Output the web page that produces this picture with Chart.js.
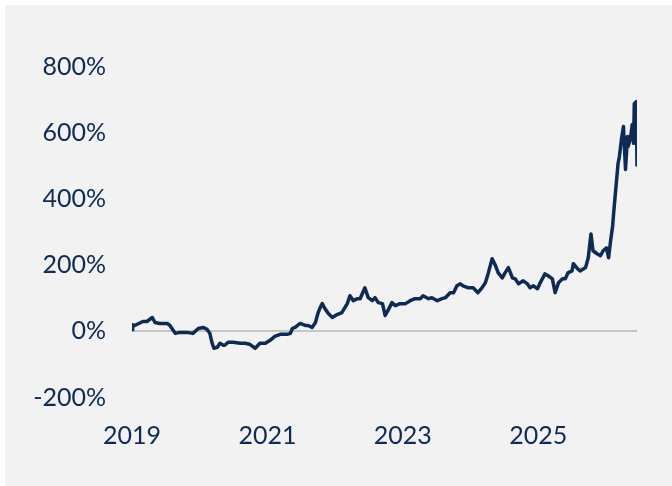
<!DOCTYPE html>
<html lang="en">
  <head>
    <meta charset="UTF-8" />
    <title>Cumulative return</title>
    <script src="https://cdn.jsdelivr.net/npm/chart.js@4.4.1/dist/chart.umd.min.js"></script>
    <style>
      html,
      body {
        margin: 0;
        padding: 0;
        background: #ffffff;
      }

      .chart-box {
        position: absolute;
        left: 5px;
        top: 5px;
        width: 667px;
        height: 481px;
        background: #f2f2f2;
      }
    </style>
  </head>
  <body>
    <div class="chart-box">
      <canvas id="returnChart"></canvas>
    </div>

    <script>
      // decimal years
      const years = [
        2019.0, 2019.01, 2019.04, 2019.16, 2019.22, 2019.3, 2019.34, 2019.41, 2019.52, 2019.56,
        2019.64, 2019.71, 2019.81, 2019.9, 2019.98, 2020.05, 2020.11, 2020.15, 2020.18, 2020.21,
        2020.26, 2020.3, 2020.35, 2020.37, 2020.42, 2020.49, 2020.6, 2020.67, 2020.74, 2020.82,
        2020.89, 2020.97, 2021.04, 2021.11, 2021.19, 2021.29, 2021.34, 2021.37, 2021.41, 2021.48,
        2021.56, 2021.6, 2021.66, 2021.71, 2021.75, 2021.78, 2021.81, 2021.85, 2021.9, 2021.96,
        2022.03, 2022.1, 2022.18, 2022.22, 2022.27, 2022.33, 2022.37, 2022.44, 2022.49, 2022.55,
        2022.59, 2022.64, 2022.7, 2022.74, 2022.78, 2022.84, 2022.89, 2022.96, 2023.04, 2023.11,
        2023.18, 2023.26, 2023.3, 2023.38, 2023.43, 2023.51, 2023.58, 2023.63, 2023.7, 2023.75,
        2023.8, 2023.85, 2023.89, 2023.97, 2024.04, 2024.11, 2024.17, 2024.22, 2024.26, 2024.32,
        2024.37, 2024.41, 2024.47, 2024.51, 2024.56, 2024.62, 2024.66, 2024.71, 2024.78, 2024.84,
        2024.88, 2024.93, 2024.99, 2025.03, 2025.1, 2025.15, 2025.21, 2025.25, 2025.3, 2025.36,
        2025.4, 2025.44, 2025.5, 2025.52, 2025.58, 2025.62, 2025.7, 2025.74, 2025.78, 2025.81,
        2025.87, 2025.92, 2025.96, 2026.01, 2026.04, 2026.07, 2026.1, 2026.12, 2026.15, 2026.18,
        2026.2, 2026.23, 2026.26, 2026.29, 2026.32, 2026.33, 2026.36, 2026.39, 2026.41, 2026.42,
        2026.45, 2026.46,
      ];

      // cumulative return in %
      const returns = [
        5, 20, 18, 30, 30, 42, 27, 24, 24, 18,
        -6, -3, -3, -6, 9, 12, 6, -6, -33, -51,
        -48, -36, -42, -42, -33, -33, -36, -36, -39, -51,
        -36, -36, -27, -15, -9, -9, -6, 9, 12, 24,
        18, 18, 12, 27, 57, 72, 84, 69, 54, 42,
        51, 57, 84, 108, 93, 99, 99, 132, 102, 93,
        102, 87, 84, 48, 63, 87, 78, 84, 84, 93,
        99, 99, 108, 99, 102, 93, 99, 102, 117, 117,
        138, 144, 138, 132, 132, 117, 132, 147, 174, 220,
        199, 177, 162, 177, 193, 162, 159, 144, 153, 144,
        132, 138, 129, 147, 174, 168, 159, 117, 147, 159,
        159, 177, 183, 205, 190, 183, 193, 223, 295, 244,
        235, 229, 244, 253, 223, 274, 319, 370, 439, 508,
        529, 581, 620, 490, 590, 560, 581, 626, 569, 689,
        695, 499,
      ];

      const xTicks = [2019, 2021, 2023, 2025];
      const yTicks = [-200, 0, 200, 400, 600, 800];

      const navy = "#0d2b55";
      const labelFont = { family: "Lato", size: 25, weight: "normal" };

      const ctx = document.getElementById("returnChart").getContext("2d");

      const returnChart = new Chart(ctx, {
        type: "line",
        data: {
          datasets: [
            {
              data: years.map((y, i) => ({ x: y, y: returns[i] })),
              borderColor: navy,
              borderWidth: 3.5,
              borderJoinStyle: "round",
              pointRadius: 0,
              tension: 0,
              fill: false,
            },
          ],
        },
        options: {
          responsive: true,
          maintainAspectRatio: false,
          animation: false,
          layout: {
            padding: { left: 0, right: 35, top: 62, bottom: 0 },
          },
          plugins: {
            legend: { display: false },
            tooltip: { enabled: false },
          },
          scales: {
            x: {
              type: "linear",
              min: 2019,
              max: 2026.46,
              afterBuildTicks: (scale) => {
                scale.ticks = xTicks.map((v) => ({ value: v }));
              },
              afterFit: (scale) => {
                scale.height = 88.5;
              },
              grid: { display: false, drawTicks: false },
              border: { display: false },
              ticks: {
                color: navy,
                font: labelFont,
                padding: 23,
                maxRotation: 0,
                callback: (v) => String(v),
              },
            },
            y: {
              min: -200,
              max: 800,
              afterBuildTicks: (scale) => {
                scale.ticks = yTicks.map((v) => ({ value: v }));
              },
              afterFit: (scale) => {
                scale.width = 127;
              },
              grid: {
                drawTicks: false,
                // only the zero line is shown
                color: (c) => (c.tick && c.tick.value === 0 ? "#c6c6c6" : "rgba(0,0,0,0)"),
                lineWidth: 2,
              },
              border: { display: false },
              ticks: {
                color: navy,
                font: labelFont,
                padding: 26,
                callback: (v) => v + "%",
              },
            },
          },
        },
      });
    </script>
  </body>
</html>
